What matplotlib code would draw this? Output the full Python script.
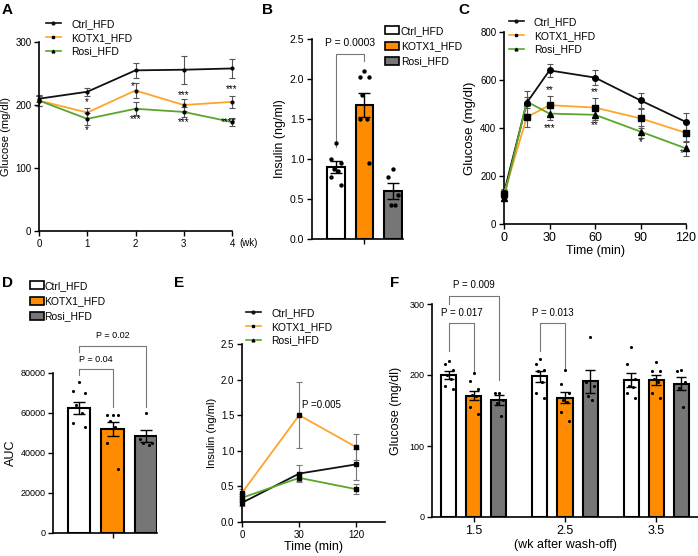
import numpy as np
import matplotlib
matplotlib.use('Agg')
from matplotlib import pyplot as plt
from matplotlib.lines import Line2D
from matplotlib.patches import Patch

plt.rcParams['font.family'] = ['Liberation Sans', 'DejaVu Sans']
W, H = 698, 556

# colours
C_BLK = '#111111'
C_ORL = '#FFA42B'
C_GRN = '#5BA52C'
C_ORB = '#FF8C00'
C_GRY = '#767676'
C_ERR = '#555555'
groups = ['Ctrl_HFD', 'KOTX1_HFD', 'Rosi_HFD']

# ---- A: fasting glucose over weeks
a_weeks = [0, 1, 2, 3, 4]
a_ctrl = [210, 221, 255, 256, 258]
a_ctrl_err = [6, 6, 12, 22, 15]
a_kotx = [207, 188, 223, 200, 205]
a_kotx_err = [8, 8, 12, 9, 9]
a_rosi = [207, 178, 194, 189, 173]
a_rosi_err = [8, 9, 10, 8, 7]
a_star_top = [(1, 204, '*'), (1.95, 230, '*'), (3, 216, '***'), (4, 225, '***')]
a_star_bot = [(1, 160, '*'), (2, 178, '***'), (3, 173, '***'), (3.92, 173, '****')]

# ---- B: insulin bars
b_mean = [0.90, 1.68, 0.60]
b_err = [0.07, 0.15, 0.10]
b_dots = [[1.2, 1.0, 0.95, 0.88, 0.85, 0.78, 0.68],
          [2.1, 2.03, 2.02, 1.8, 1.5, 1.5, 0.95],
          [0.88, 0.78, 0.55, 0.42, 0.43]]

# ---- C: GTT
c_time = [0, 15, 30, 60, 90, 120]
c_ctrl = [130, 505, 640, 610, 515, 425]
c_ctrl_err = [15, 48, 28, 30, 32, 36]
c_kotx = [125, 445, 495, 485, 440, 380]
c_kotx_err = [15, 40, 40, 40, 40, 40]
c_rosi = [110, 510, 460, 455, 385, 315]
c_rosi_err = [15, 20, 25, 22, 25, 30]
c_stars = [(30, 558, '**'), (30, 400, '***'), (60, 550, '**'), (60, 412, '**'),
           (90, 342, '*'), (117, 296, '*')]

# ---- D: AUC
d_mean = [62500, 52000, 48500]
d_err = [3000, 3500, 3000]
d_dots = [[75500, 71000, 70000, 64000, 60000, 55000, 53000],
          [59000, 59000, 59000, 56000, 53000, 45000, 32000],
          [60000, 47000, 45000, 45000, 44000]]

# ---- E: insulin over time
e_labels = ['0', '30', '120']
e_ctrl = [0.27, 0.68, 0.81]
e_ctrl_err = [0.05, 0.12, 0.22]
e_kotx = [0.41, 1.50, 1.05]
e_kotx_err = [0.05, 0.46, 0.18]
e_rosi = [0.34, 0.62, 0.46]
e_rosi_err = [0.05, 0.05, 0.07]

# ---- F: after wash-off
f_weeks = [1.5, 2.5, 3.5]
f_mean = [[200, 171, 165], [198, 168, 191], [193, 193, 188]]
f_err = [[6, 6, 7], [8, 8, 16], [10, 7, 9]]
f_dots = [[[220, 215, 207, 200, 195, 185, 180], [203, 192, 180, 172, 170, 155, 145], [175, 175, 165, 160, 142]],
          [[222, 215, 207, 205, 190, 175, 167], [207, 188, 175, 165, 162, 148, 135], [253, 190, 185, 170, 165]],
          [[240, 215, 195, 185, 183, 175, 167], [218, 205, 205, 195, 190, 175, 168], [207, 205, 190, 182, 155]]]


def add_ax(l, t, r, b):
    return fig.add_axes([l / W, 1 - b / H, (r - l) / W, (b - t) / H])


def style(ax):
    for s in ['top', 'right']:
        ax.spines[s].set_visible(False)
    for s in ['left', 'bottom']:
        ax.spines[s].set_linewidth(1.2)
    ax.tick_params(direction='out', length=3.5, width=1.0, labelsize=7, pad=2)


def spread(n, w):
    base = np.array([0, -1, 1, -0.5, 0.5, -1, 1, 0])
    return base[:n] * w


def legend_at(ax, handles, x, y, **kw):
    ax.legend(handles=handles, labels=groups, loc='upper left',
              bbox_to_anchor=(x / W, 1 - y / H), bbox_transform=fig.transFigure,
              frameon=False, fontsize=7.5, borderpad=0, borderaxespad=0, **kw)


def bracket(ax, x1, x2, y, y1, y2, txt, ty, fs=7):
    ax.plot([x1, x1, x2, x2], [y1, y, y, y2], color='#777777', lw=0.8, clip_on=False)
    ax.text((x1 + x2) / 2, ty, txt, ha='center', va='center', fontsize=fs, clip_on=False)


fig = plt.figure(figsize=(W / 100, H / 100), dpi=100)

line_handles = [Line2D([], [], color=C_BLK, lw=1.2, marker='o', ms=2),
                Line2D([], [], color=C_ORL, lw=1.2, marker='s', ms=2, mfc='k', mec='k'),
                Line2D([], [], color=C_GRN, lw=1.2, marker='^', ms=2, mfc='k', mec='k')]
bar_handles = [Patch(facecolor='white', edgecolor='k', lw=1.2),
               Patch(facecolor=C_ORB, edgecolor='k', lw=1.2),
               Patch(facecolor=C_GRY, edgecolor='k', lw=1.2)]

# ---------------- A
ax = add_ax(39, 42, 232, 231)
style(ax)
for y, e, c in [(a_ctrl, a_ctrl_err, C_BLK), (a_kotx, a_kotx_err, C_ORL), (a_rosi, a_rosi_err, C_GRN)]:
    ax.plot(a_weeks, y, color=c, lw=1.3, clip_on=False, zorder=3)
    ax.errorbar(a_weeks, y, yerr=e, fmt='none', ecolor=C_ERR, elinewidth=0.8, capsize=2,
                capthick=0.8, clip_on=False, zorder=2)
    ax.plot(a_weeks, y, ls='none', marker='o', ms=2, color='k', clip_on=False, zorder=4)
for x, y, s in a_star_top + a_star_bot:
    ax.text(x, y, s, ha='center', va='center', fontsize=7)
ax.set_xlim(0, 4)
ax.set_ylim(0, 300)
ax.set_xticks(a_weeks)
ax.set_yticks([0, 100, 200, 300])
ax.set_ylabel('Glucose (mg/dl)', fontsize=8, labelpad=3)
ax.annotate('(wk)', xy=(4, 0), xytext=(5, -8.5), textcoords='offset points', ha='left',
            va='center', fontsize=7, annotation_clip=False)
legend_at(ax, line_handles, 46, 19, handlelength=1.4, handletextpad=1.0, labelspacing=0.35)

# ---------------- B
ax = add_ax(312, 39, 403, 239)
style(ax)
xb = np.arange(3)
ax.bar(xb, b_mean, width=0.63, color=['white', C_ORB, C_GRY], edgecolor='k', lw=1.5, zorder=2)
ax.errorbar(xb, b_mean, yerr=b_err, fmt='none', ecolor='k', elinewidth=1, capsize=4, capthick=1, zorder=3)
for i, d in enumerate(b_dots):
    ax.scatter(xb[i] + spread(len(d), 0.17), d, s=10, color='k', zorder=4, lw=0)
bracket(ax, 0, 1, 2.31, 1.15, 2.22, 'P = 0.0003', 2.45, fs=7.5)
ax.set_xlim(-0.84, 2.35)
ax.set_ylim(0, 2.5)
ax.set_xticks([1])
ax.set_xticklabels([''])
ax.set_yticks([0, 0.5, 1.0, 1.5, 2.0, 2.5])
ax.set_yticklabels(['0.0', '0.5', '1.0', '1.5', '2.0', '2.5'])
ax.tick_params(axis='y', labelsize=7.5)
ax.set_ylabel('Insulin (ng/ml)', fontsize=9, labelpad=3)
legend_at(ax, bar_handles, 385, 26, handlelength=1.3, handleheight=0.8, handletextpad=0.2, labelspacing=0.5)

# ---------------- C
ax = add_ax(504, 32, 686, 224)
style(ax)
for y, e, c, m in [(c_ctrl, c_ctrl_err, C_BLK, 'o'), (c_kotx, c_kotx_err, C_ORL, 's'), (c_rosi, c_rosi_err, C_GRN, '^')]:
    ax.plot(c_time, y, color=c, lw=1.3, clip_on=False, zorder=3)
    ax.errorbar(c_time, y, yerr=e, fmt='none', ecolor=C_ERR, elinewidth=0.8, capsize=2.5,
                capthick=0.8, clip_on=False, zorder=2)
    ax.plot(c_time, y, ls='none', marker=m, ms=4, color='k', clip_on=False, zorder=4)
for x, y, s in c_stars:
    ax.text(x, y, s, ha='center', va='center', fontsize=7)
ax.set_xlim(0, 120)
ax.set_ylim(0, 800)
ax.set_xticks([0, 30, 60, 90, 120])
ax.set_yticks([0, 200, 400, 600, 800])
ax.tick_params(axis='x', labelsize=9)
ax.set_xlabel('Time (min)', fontsize=9, labelpad=1)
ax.set_ylabel('Glucose (mg/dl)', fontsize=9.5, labelpad=3)
legend_at(ax, line_handles, 509, 17, handlelength=1.4, handletextpad=1.0, labelspacing=0.35)

# ---------------- D
ax = add_ax(53, 373, 157, 533)
style(ax)
xd = np.arange(3)
ax.bar(xd, d_mean, width=0.66, color=['white', C_ORB, C_GRY], edgecolor='k', lw=1.5, zorder=2)
ax.errorbar(xd, d_mean, yerr=d_err, fmt='none', ecolor='k', elinewidth=1, capsize=4, capthick=1, zorder=3)
for i, d in enumerate(d_dots):
    ax.scatter(xd[i] + spread(len(d), 0.17), d, s=5, color='k', zorder=4, lw=0)
bracket(ax, 0, 1, 82000, 79000, 63000, 'P = 0.04', 86500, fs=6.5)
bracket(ax, 0, 2, 93500, 90500, 63000, 'P = 0.02', 99000, fs=6.5)
ax.set_xlim(-0.78, 2.33)
ax.set_ylim(0, 80000)
ax.set_xticks([1])
ax.set_xticklabels([''])
ax.set_yticks([0, 20000, 40000, 60000, 80000])
ax.tick_params(axis='y', labelsize=6.5)
ax.set_ylabel('AUC', fontsize=9, labelpad=2)
legend_at(ax, bar_handles, 30, 281, handlelength=1.3, handleheight=0.8, handletextpad=0.1, labelspacing=0.5)

# ---------------- E
ax = add_ax(242, 344, 385, 522)
style(ax)
xe = np.arange(3)
for y, e, c in [(e_ctrl, e_ctrl_err, C_BLK), (e_kotx, e_kotx_err, C_ORL), (e_rosi, e_rosi_err, C_GRN)]:
    ax.plot(xe, y, color=c, lw=1.3, clip_on=False, zorder=3)
    ax.errorbar(xe, y, yerr=e, fmt='none', ecolor='#777777', elinewidth=0.8, capsize=2.5,
                capthick=0.8, clip_on=False, zorder=2)
    ax.plot(xe, y, ls='none', marker='s', ms=2.5, color='k', clip_on=False, zorder=4)
ax.text(1.05, 1.64, 'P =0.005', ha='left', va='center', fontsize=7)
ax.set_xlim(0, 2.5)
ax.set_ylim(0, 2.5)
ax.set_xticks(xe)
ax.set_xticklabels(e_labels)
ax.set_yticks([0, 0.5, 1.0, 1.5, 2.0, 2.5])
ax.set_yticklabels(['0.0', '0.5', '1.0', '1.5', '2.0', '2.5'])
ax.set_xlabel('Time (min)', fontsize=9, labelpad=1)
ax.set_ylabel('Insulin (ng/ml)', fontsize=8, labelpad=3)
legend_at(ax, line_handles, 246, 308, handlelength=1.4, handletextpad=1.0, labelspacing=0.35)

# ---------------- F
ax = add_ax(432, 304, 698, 517)
style(ax)
off = 0.275
bw = 0.165
cols = ['white', C_ORB, C_GRY]
for gi, wk in enumerate(f_weeks):
    xs = wk + np.array([-off, 0, off])
    ax.bar(xs, f_mean[gi], width=bw, color=cols, edgecolor='k', lw=1.5, zorder=2)
    ax.errorbar(xs, f_mean[gi], yerr=f_err[gi], fmt='none', ecolor='k', elinewidth=1,
                capsize=3.5, capthick=1, zorder=3)
    for j in range(3):
        d = f_dots[gi][j]
        ax.scatter(xs[j] + spread(len(d), 0.045), d, s=5, color='k', zorder=4, lw=0)
bracket(ax, 1.5 - off, 1.5, 273.7, 234, 205, 'P = 0.017', 288)
bracket(ax, 1.5 - off, 1.5 + off, 311.7, 300, 193, 'P = 0.009', 327)
bracket(ax, 2.5 - off, 2.5, 273.7, 234, 208, 'P = 0.013', 288)
ax.set_xlim(1.04, 3.96)
ax.set_ylim(0, 300)
ax.set_xticks(f_weeks)
ax.set_xticklabels(['1.5', '2.5', '3.5'], fontsize=9)
ax.set_yticks([0, 100, 200, 300])
ax.tick_params(axis='y', labelsize=6.5)
ax.set_xlabel('(wk after wash-off)', fontsize=9, labelpad=2)
ax.set_ylabel('Glucose (mg/dl)', fontsize=9, labelpad=5)

# panel letters
for lab, x, y in [('A', 2, 3), ('B', 262, 3), ('C', 458, 3), ('D', 2, 276), ('E', 174, 276), ('F', 390, 276)]:
    fig.text(x / W, 1 - y / H, lab, fontsize=11, fontweight='bold', ha='left', va='top')

fig.savefig('out.png', dpi=100)
